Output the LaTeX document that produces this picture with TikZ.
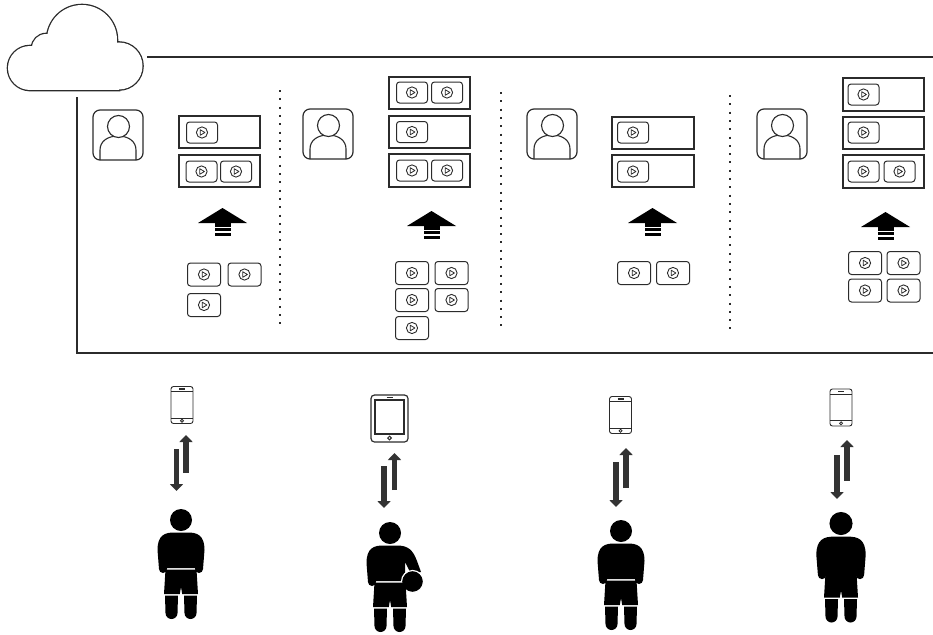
\documentclass[tikz,border=0pt]{standalone}
\usetikzlibrary{arrows.meta}
\definecolor{ink}{HTML}{2B2B2B}
\definecolor{arrowgray}{HTML}{333333}
\tikzset{
  frame/.style={draw=ink,line width=1.3pt},
  strip/.style={draw=ink,line width=1.1pt,inner sep=0pt,minimum height=32pt,minimum width=81pt},
  dotline/.style={draw=ink,line width=2pt,dash pattern=on 2pt off 6.3pt},
  flow/.style={draw=arrowgray,line width=5.5pt,-{Triangle[width=13pt,length=7pt]}},
  pics/tile/.style 2 args={code={
    \draw[ink,line width=1pt,rounded corners=3pt] (-#1/2,-#2/2) rectangle (#1/2,#2/2);
    \draw[ink,line width=0.9pt] (0,0) circle (5.6);
    \draw[ink,line width=0.8pt,line join=round] (-1.8,-2.8) -- (2.9,0) -- (-1.8,2.8) -- cycle;
  }},
  pics/avatar/.style={code={
    \draw[ink,line width=1.2pt,rounded corners=7pt] (0,0) rectangle (50,50);
    \draw[ink,line width=1.1pt] (7,50) -- (7,40) .. controls (7,31) and (15,26) .. (25,26)
      .. controls (35,26) and (43,31) .. (43,40) -- (43,50);
    \draw[ink,line width=1.1pt,fill=white] (25.5,16.5) circle (11);
  }},
  pics/upload/.style={code={
    \fill (-24.5,15) -- (0,0) -- (24.5,15) -- cycle;
    \fill (-8,15) rectangle (8,28);
    \draw[white,line width=1.1pt] (-8,19.5) -- (8,19.5) (-8,24) -- (8,24);
  }},
  pics/phone/.style={code={
    \draw[ink,line width=0.9pt,rounded corners=2.5pt] (-11,-18.5) rectangle (11,18.5);
    \draw[ink,line width=0.7pt] (-11,-13.5) -- (11,-13.5) (-11,13) -- (11,13);
    \draw[ink,line width=1.1pt] (-3,-16) -- (3,-16);
    \draw[ink,line width=0.8pt] (0,15.8) circle (1.5);
  }},
  pics/tablet/.style={code={
    \draw[ink,line width=1.2pt,rounded corners=3.5pt] (-18.5,-23.5) rectangle (18.5,23.5);
    \draw[ink,line width=1.8pt] (-14.5,-18.5) rectangle (14.5,15.5);
    \draw[ink,line width=1.2pt] (-3,-21) -- (3,-21);
    \draw[ink,line width=1pt] (0,19.5) circle (1.8);
  }},
  pics/legs/.style={code={
    \fill (-15.5,49.5) -- (15.5,49.5) -- (17,74) -- (1.2,74) -- (0,67) -- (-1.2,74) -- (-17,74) -- cycle;
    \fill (-16,75.5) -- (-3,75.5) -- (-3.5,93) arc[start angle=0,end angle=180,radius=6] -- cycle;
    \fill (3,75.5) -- (16,75.5) -- (15.5,93) arc[start angle=0,end angle=180,radius=6] -- cycle;
  }},
  pics/person/.style={code={
    \fill (0,0) circle (11);
    \fill (-22,49) -- (-23.5,30) .. controls (-23.5,15) and (-16,12.5) .. (-7,12.5) -- (7,12.5)
      .. controls (16,12.5) and (23.5,15) .. (23.5,30) -- (22,49)
      arc[start angle=0,end angle=180,radius=4] -- (15,30) -- (15,48) -- (-15,48) -- (-15,30) -- (-14,49)
      arc[start angle=0,end angle=180,radius=4] -- cycle;
    \pic {legs};
  }},
  pics/ballperson/.style={code={
    \fill (0,0) circle (11);
    \fill (-14,49) arc[start angle=0,end angle=180,radius=4] -- (-23.5,30)
      .. controls (-23.5,15) and (-16,12.5) .. (-7,12.5) -- (7,12.5)
      .. controls (18,12.5) and (23,17) .. (27,28) -- (31,39) -- (21,41) -- (15,29) -- (15,48) -- (-15,48) -- (-15,30) -- cycle;
    \fill[draw=white,line width=1.2pt] (22.5,48.5) circle (11);
    \pic {legs};
  }}
}
\begin{document}
\begin{tikzpicture}[x=1pt,y=-1pt]
\useasboundingbox (0,0) rectangle (933,634);

% cloud: outline of a union of circles
\begin{scope}
  \draw[ink,line width=2.6pt] (30,68) circle (22) (46,48) circle (14) (82,40) circle (35)
    (119,66) circle (23.5) (30,55) rectangle (119,90);
  \fill[white] (30,68) circle (22);
  \fill[white] (46,48) circle (14);
  \fill[white] (82,40) circle (35);
  \fill[white] (119,66) circle (23.5);
  \fill[white] (30,55) rectangle (119,90);
\end{scope}
\coordinate (cloudR) at (147,57);
\coordinate (lineR) at (933,57);
\coordinate (frameTL) at (77,97);
\coordinate (frameBL) at (77,353);
\coordinate (frameBR) at (933,353);
\draw[frame] (cloudR) -- (lineR);
\draw[frame] (frameTL) -- (frameBL) -- (frameBR);

% separators between the four users
\draw[dotline] (280,90) -- (280,326);
\draw[dotline] (501,92) -- (501,326);
\draw[dotline] (730,95) -- (730,330);

% user 1
\pic (av1) at (93,110) {avatar};
\node[strip] (s1a) at (219.5,132) {};
\node[strip] (s1b) at (219.5,171) {};
\pic at (202,132.5) {tile={31}{21}};
\pic at (201.5,171.5) {tile={31}{21}};
\pic at (236,171.5) {tile={31}{21}};
\pic (up1) at (222.5,208) {upload};
\pic at (204,274.5) {tile={33}{23}};
\pic at (244.5,274.5) {tile={33}{23}};
\pic at (204,305) {tile={33}{23}};

% user 2
\pic (av2) at (303,109) {avatar};
\node[strip] (s2a) at (429.5,93) {};
\node[strip] (s2b) at (429.5,132) {};
\node[strip,minimum height=33pt] (s2c) at (429.5,170.5) {};
\pic at (412,92.5) {tile={31}{21}};
\pic at (447,92.5) {tile={31}{21}};
\pic at (412,132) {tile={31}{21}};
\pic at (412,170.5) {tile={31}{21}};
\pic at (447,170.5) {tile={31}{21}};
\pic (up2) at (431.5,211) {upload};
\pic at (412,273) {tile={33}{23}};
\pic at (451.5,273) {tile={33}{23}};
\pic at (412,300) {tile={33}{23}};
\pic at (451.5,300) {tile={33}{23}};
\pic at (412,328) {tile={33}{23}};

% user 3
\pic (av3) at (527,109) {avatar};
\node[strip,minimum width=82pt] (s3a) at (653,133) {};
\node[strip,minimum width=82pt] (s3b) at (653,171) {};
\pic at (633,132.5) {tile={31}{21}};
\pic at (633,171.5) {tile={31}{21}};
\pic (up3) at (652.5,208) {upload};
\pic at (634,273) {tile={33}{23}};
\pic at (673,273) {tile={33}{23}};

% user 4
\pic (av4) at (757,109) {avatar};
\node[strip,minimum height=33pt] (s4a) at (883.5,94.5) {};
\node[strip] (s4b) at (883.5,133) {};
\node[strip,minimum height=33pt] (s4c) at (883.5,171.5) {};
\pic at (863.5,94.5) {tile={31}{21}};
\pic at (863.5,132.5) {tile={31}{21}};
\pic at (863.5,171.5) {tile={31}{21}};
\pic at (899.5,171.5) {tile={31}{21}};
\pic (up4) at (885.5,212) {upload};
\pic at (865,263) {tile={33}{23}};
\pic at (903.5,263) {tile={33}{23}};
\pic at (865,290.5) {tile={33}{23}};
\pic at (903.5,290.5) {tile={33}{23}};

% devices
\pic (ph1) at (182,405) {phone};
\pic (tb2) at (389.5,418.5) {tablet};
\pic (ph3) at (620.5,415) {phone};
\pic (ph4) at (841,407.5) {phone};

% data exchange between device and user
\coordinate (d1s) at (176.5,449); \coordinate (d1e) at (176.5,491);
\coordinate (u1s) at (186,473);   \coordinate (u1e) at (186,435);
\coordinate (d2s) at (384,466);   \coordinate (d2e) at (384,508);
\coordinate (u2s) at (394.5,490); \coordinate (u2e) at (394.5,453);
\coordinate (d3s) at (616,462);   \coordinate (d3e) at (616,507);
\coordinate (u3s) at (626,488);   \coordinate (u3e) at (626,448);
\coordinate (d4s) at (837,455);   \coordinate (d4e) at (837,499);
\coordinate (u4s) at (847,481);   \coordinate (u4e) at (847,440);
\foreach \a/\b in {d1s/d1e,u1s/u1e,d2s/d2e,u2s/u2e,d3s/d3e,u3s/u3e,d4s/d4e,u4s/u4e}
  \draw[flow] (\a) -- (\b);

% users
\pic (p1) at (181,520) {person};
\pic (p2) at (390,533) {ballperson};
\pic (p3) at (621,531) {person};
\pic[scale=1.05] (p4) at (841,523.5) {person};
\end{tikzpicture}
\end{document}
